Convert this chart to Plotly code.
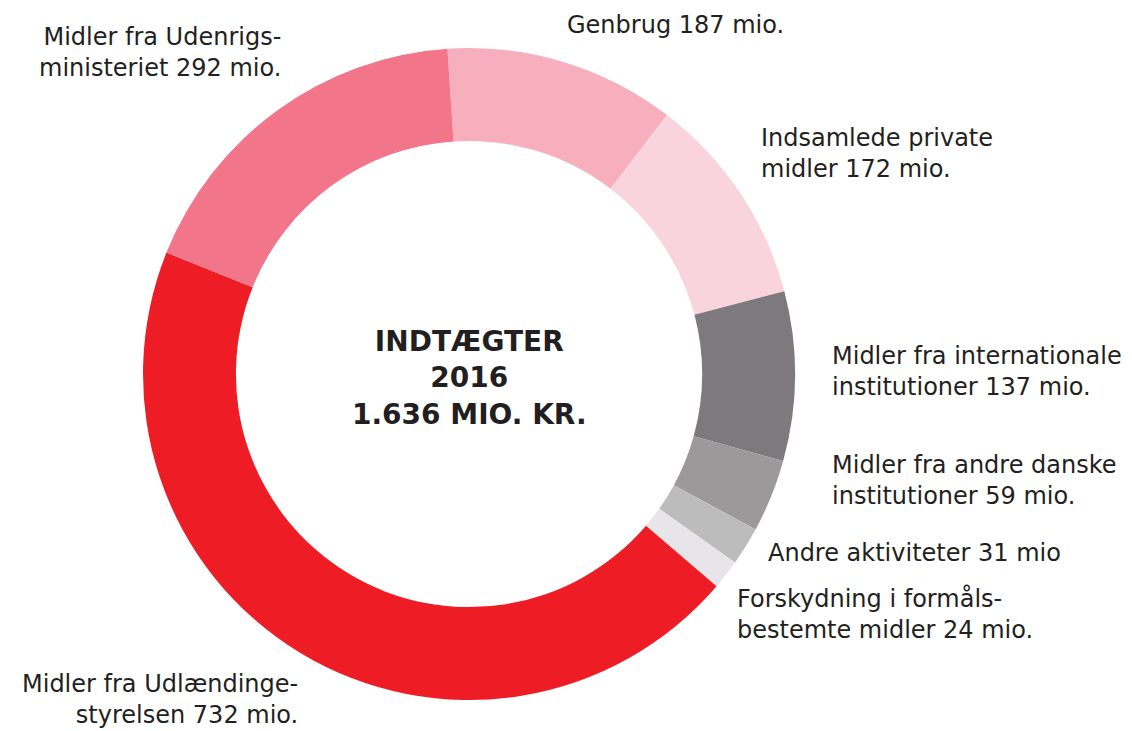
import plotly.graph_objects as go

# ---- data ----
categories = [
    "Genbrug",
    "Indsamlede private midler",
    "Midler fra internationale institutioner",
    "Midler fra andre danske institutioner",
    "Andre aktiviteter",
    "Forskydning i formålsbestemte midler",
    "Midler fra Udlændingestyrelsen",
    "Midler fra Udenrigsministeriet",
]
values = [187, 172, 137, 59, 31, 24, 732, 292]
label_texts = [
    "Genbrug 187 mio.",
    "Indsamlede private<br>midler 172 mio.",
    "Midler fra internationale<br>institutioner 137 mio.",
    "Midler fra andre danske<br>institutioner 59 mio.",
    "Andre aktiviteter 31 mio",
    "Forskydning i formåls-<br>bestemte midler 24 mio.",
    "Midler fra Udlændinge-<br>styrelsen 732 mio.",
    "Midler fra Udenrigs-<br>ministeriet 292 mio.",
]
center_title = "INDTÆGTER<br>2016<br>1.636 MIO. KR."

# ---- styles / layout ----
colors = ["#F7AEBD", "#F9D3DD", "#7D797C", "#9C999B", "#BDBCBD", "#E7E5E9", "#EE1D25", "#F27589"]
W, H = 1132, 731
cx, cy, R = 469, 374, 326
# label anchor positions in pixels (x, y-center, xanchor)
label_pos = [
    (565, 25, "left"),
    (759, 153, "left"),
    (830, 371, "left"),
    (830, 480, "left"),
    (766, 553, "left"),
    (735, 614, "left"),
    (300, 699, "right"),
    (283, 53, "right"),
]
FONT = "DejaVu Sans"
TXT = "#231F20"

fig = go.Figure(go.Pie(
    labels=categories,
    values=values,
    sort=False,
    direction="clockwise",
    rotation=-3.8,
    hole=0.715,
    marker=dict(colors=colors, line=dict(width=0)),
    textinfo="none",
    hoverinfo="label+value",
    domain=dict(x=[(cx - R) / W, (cx + R) / W], y=[1 - (cy + R) / H, 1 - (cy - R) / H]),
))

annotations = []
for txt, (px, py, xa) in zip(label_texts, label_pos):
    annotations.append(dict(
        x=px / W, y=1 - py / H, xref="paper", yref="paper",
        text=txt, showarrow=False, xanchor=xa, yanchor="middle", align=xa,
        font=dict(family=FONT, size=24, color=TXT),
    ))
annotations.append(dict(
    x=cx / W, y=1 - 378 / H, xref="paper", yref="paper",
    text="<b>" + center_title.replace("<br>", "</b><br><b>") + "</b>",
    showarrow=False, xanchor="center", yanchor="middle", align="center",
    font=dict(family=FONT, size=28, color=TXT),
))

fig.update_layout(
    width=W, height=H,
    margin=dict(l=0, r=0, t=0, b=0),
    paper_bgcolor="white", plot_bgcolor="white",
    showlegend=False,
    annotations=annotations,
)

fig.write_html("out.html")
